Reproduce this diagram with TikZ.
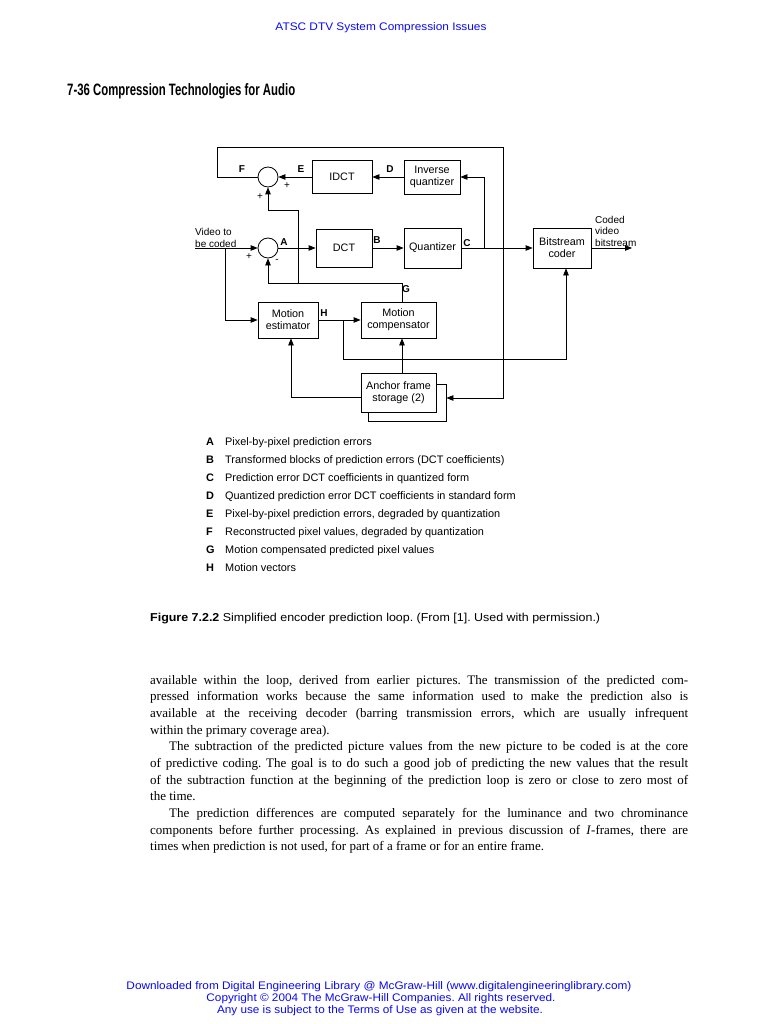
\documentclass[tikz,border=0pt]{standalone}
\usepackage{fontspec}
\usepackage{graphicx}
\setmainfont{Liberation Sans}
\newfontfamily\bodyserif{Liberation Serif}
\usetikzlibrary{arrows.meta}
\definecolor{linkblue}{RGB}{10,10,245}
\frenchspacing
\begin{document}
\begin{tikzpicture}[x=1pt,y=-1pt,
  box/.style={draw,line width=0.8pt,inner sep=0pt,align=center,font=\fontsize{10.8}{12}\selectfont},
  sumc/.style={draw,circle,minimum size=20pt,inner sep=0pt,line width=0.8pt},
  lab/.style={inner sep=0pt,font=\fontsize{10}{12}\selectfont\bfseries},
  sign/.style={inner sep=0pt,font=\fontsize{10}{12}\selectfont},
  side/.style={inner sep=0pt,align=left,font=\fontsize{10}{11.5}\selectfont},
  conn/.style={line width=0.8pt},
  arr/.style={conn,-{Triangle[length=7pt,width=5.5pt]}},
  legl/.style={anchor=base west,inner sep=0pt,font=\fontsize{10.9}{12}\selectfont\bfseries},
  legt/.style={anchor=base west,inner sep=0pt,font=\fontsize{10.9}{12}\selectfont},
  bline/.style={anchor=base west,inner sep=0pt,font=\bodyserif\fontsize{13}{15}\selectfont\frenchspacing},
  foot/.style={anchor=base,inner sep=0pt,text=linkblue,font=\fontsize{11}{12}\selectfont}]
\fill[white] (0,0) rectangle (759,1024);
\useasboundingbox (0,0) rectangle (759,1024);

% page header texts
\node[foot] (hdr) at (381,31) {\resizebox{211pt}{\height}{ATSC DTV System Compression Issues}};
\node[anchor=base west,inner sep=0pt] (ttl) at (67,96) {\resizebox{228pt}{\height}{\fontsize{16.5}{18}\selectfont\bfseries 7-36 Compression Technologies for Audio}};

% blocks
\node[box,minimum width=60pt,minimum height=33pt] (idct) at (342,177) {IDCT};
\node[box,minimum width=56pt,minimum height=34pt] (iq) at (432,177) {Inverse\\quantizer};
\node[box,minimum width=56pt,minimum height=38pt] (dct) at (344,248) {DCT};
\node[box,minimum width=57pt,minimum height=40pt] (quant) at (432.5,248) {Quantizer};
\node[box,minimum width=58pt,minimum height=40pt] (bsc) at (562,248) {Bitstream\\coder};
\node[box,minimum width=60pt,minimum height=36pt] (me) at (288,320) {Motion\\estimator};
\node[box,minimum width=75pt,minimum height=36pt] (mc) at (398.5,320) {Motion\\compensator};
\node[box,minimum width=78pt,minimum height=37pt] (afsb) at (407,402.5) {};
\node[box,fill=white,minimum width=75pt,minimum height=39pt] (afs) at (398.5,392.5) {Anchor frame\\storage (2)};
\node[sumc] (s1) at (268,177) {};
\node[sumc] (s2) at (268,248) {};

% coordinates
\coordinate (fl) at (217,147);
\coordinate (fr) at (503,147);
\coordinate (fa) at ([yshift=4.5pt]afsb.east);
\coordinate (cb) at (484,248);
\coordinate (vin) at (195,248);
\coordinate (vb) at (225,248);
\coordinate (vout) at (632,248);
\coordinate (g1) at (402,283);
\coordinate (g2) at (298,283);
\coordinate (g3) at (298,210);
\coordinate (h1) at (343,320);
\coordinate (h2) at (343,359);
\coordinate (h3) at (566,359);
\coordinate (m1) at (291,397);

% connectors
\draw[arr] (s1.west) -- (s1.west -| fl) -- (fl) -- (fr) -- (fr |- fa) -- (fa);
\draw[arr] (idct.west) -- (s1.east);
\draw[arr] (iq.west) -- (idct.east);
\draw[arr] (cb) -- (cb |- iq.east) -- (iq.east);
\draw[arr] (vin) -- (s2.west);
\draw[arr] (vb) -- (vb |- me.west) -- (me.west);
\draw[arr] (s2.east) -- (dct.west);
\draw[arr] (dct.east) -- (quant.west);
\draw[arr] (quant.east) -- (bsc.west);
\draw[arr] (bsc.east) -- (vout);
\draw[arr] (mc.north -| g1) -- (g1) -- (g1 -| s2) -- (s2.south);
\draw[arr] (g2) -- (g3) -- (g3 -| s1) -- (s1.south);
\draw[arr] (me.east) -- (mc.west);
\draw[arr] (h1) -- (h2) -- (h3) -- (h3 |- bsc.south);
\draw[arr] (afs.north -| g1) -- (mc.south -| g1);
\draw[arr] (afs.west |- m1) -- (m1) -- (m1 |- me.south);

% labels
\node[lab] (lF) at (242,169) {F};
\node[lab] (lE) at (301,169) {E};
\node[lab] (lD) at (390,169) {D};
\node[lab] (lA) at (284,242) {A};
\node[lab] (lB) at (377,240) {B};
\node[lab] (lC) at (467,243) {C};
\node[lab] (lG) at (406,289) {G};
\node[lab] (lH) at (324,313) {H};
\node[sign] (p1) at (287,186) {+};
\node[sign] (p2) at (260,197) {+};
\node[sign] (p3) at (249,257) {+};
\node[sign] (m2) at (277,261) {-};
\node[side,anchor=west] (vtxt) at (195,238) {Video to\\be coded};
\node[side,anchor=north west] (otxt) at (595,216) {Coded\\video\\bitstream};

% legend
\foreach \L/\T [count=\i from 0] in {A/Pixel-by-pixel prediction errors,
  B/Transformed blocks of prediction errors (DCT coefficients),
  C/Prediction error DCT coefficients in quantized form,
  D/Quantized prediction error DCT coefficients in standard form,
  E/{Pixel-by-pixel prediction errors, degraded by quantization},
  F/{Reconstructed pixel values, degraded by quantization},
  G/Motion compensated predicted pixel values,
  H/Motion vectors}{
  \node[legl] (leg\L) at (206,445.6+18*\i) {\L};
  \node[legt] (legt\L) at (225,445.6+18*\i) {\T};
}

% caption
\node[anchor=base west,inner sep=0pt] (cap) at (150,621.5) {\resizebox{450pt}{\height}{\fontsize{11.5}{13}\selectfont\textbf{Figure 7.2.2} Simplified encoder prediction loop. (From [1]. Used with permission.)}};

% body text
\node[bline] (b1) at (150,684) {\hbox to 538pt{available within the loop, derived from earlier pictures. The transmission of the predicted com-}};
\node[bline] (b2) at (150,700.67) {\hbox to 538pt{pressed information works because the same information used to make the prediction also is}};
\node[bline] (b3) at (150,717.33) {\hbox to 538pt{available at the receiving decoder (barring transmission errors, which are usually infrequent}};
\node[bline] (b4) at (150,734) {within the primary coverage area).};
\node[bline] (b5) at (150,750.67) {\hbox to 538pt{\hspace{19pt}The subtraction of the predicted picture values from the new picture to be coded is at the core}};
\node[bline] (b6) at (150,767.33) {\hbox to 538pt{of predictive coding. The goal is to do such a good job of predicting the new values that the result}};
\node[bline] (b7) at (150,784) {\hbox to 538pt{of the subtraction function at the beginning of the prediction loop is zero or close to zero most of}};
\node[bline] (b8) at (150,800.67) {the time.};
\node[bline] (b9) at (150,817.33) {\hbox to 538pt{\hspace{19pt}The prediction differences are computed separately for the luminance and two chrominance}};
\node[bline] (b10) at (150,834) {\hbox to 538pt{components before further processing. As explained in previous discussion of \textit{I}-frames, there are}};
\node[bline] (b11) at (150,850.67) {times when prediction is not used, for part of a frame or for an entire frame.};

% footer
\node[foot] (f1) at (379,989) {\resizebox{505pt}{\height}{Downloaded from Digital Engineering Library @ McGraw-Hill (www.digitalengineeringlibrary.com)}};
\node[foot] (f2) at (381,1001) {\resizebox{349pt}{\height}{Copyright \textcopyright{} 2004 The McGraw-Hill Companies. All rights reserved.}};
\node[foot] (f3) at (380,1013) {\resizebox{326pt}{\height}{Any use is subject to the Terms of Use as given at the website.}};
\end{tikzpicture}
\end{document}
